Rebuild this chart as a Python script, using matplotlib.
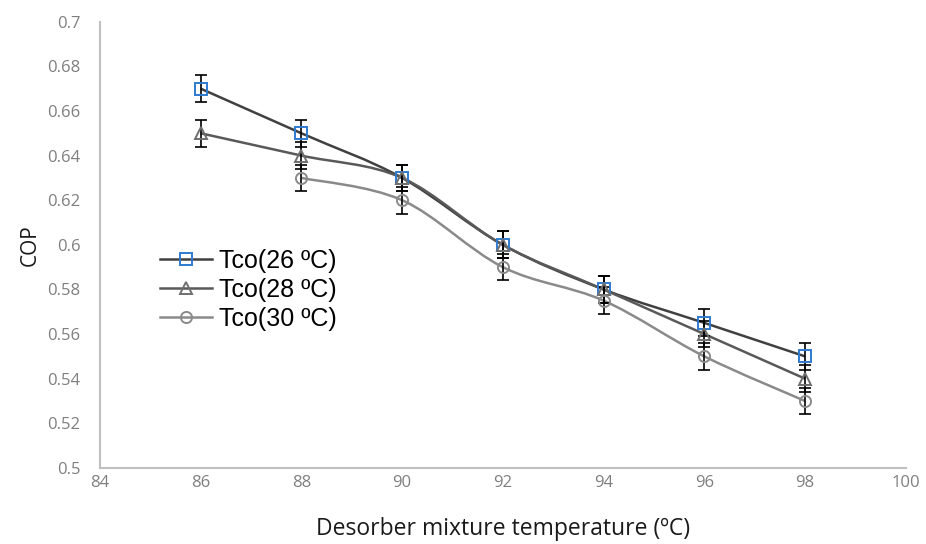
import numpy as np
import matplotlib
matplotlib.use("Agg")
import matplotlib.pyplot as plt
from matplotlib.path import Path
from matplotlib.patches import PathPatch
from matplotlib.lines import Line2D

# data
t26 = [86, 88, 90, 92, 94, 96, 98]
cop26 = [0.67, 0.65, 0.63, 0.60, 0.58, 0.565, 0.55]
t28 = [86, 88, 90, 92, 94, 96, 98]
cop28 = [0.65, 0.64, 0.63, 0.60, 0.58, 0.56, 0.54]
t30 = [88, 90, 92, 94, 96, 98]
cop30 = [0.63, 0.62, 0.59, 0.575, 0.55, 0.53]
err = 0.006
labels = ["Tco(26 \u00baC)", "Tco(28 \u00baC)", "Tco(30 \u00baC)"]


def smooth_path(x, y):
    # Excel-like smoothed line as cubic Bezier segments through the points
    p = np.column_stack([x, y]).astype(float)
    n = len(p)
    verts = [p[0]]
    codes = [Path.MOVETO]
    for i in range(n - 1):
        p0 = p[i - 1] if i > 0 else p[i]
        p3 = p[i + 2] if i + 2 < n else p[i + 1]
        c1 = p[i] + (p[i + 1] - p0) / 6
        c2 = p[i + 1] - (p3 - p[i]) / 6
        verts += [c1, c2, p[i + 1]]
        codes += [Path.CURVE4] * 3
    return Path(verts, codes)


fig = plt.figure(figsize=(9.26, 5.44), dpi=100)
ax = fig.add_axes([0.108, 0.14, 0.87, 0.82])

series = [
    (t26, cop26, "#404040", "s", "#2e7bcf"),
    (t28, cop28, "#595959", "^", "#6f6f6f"),
    (t30, cop30, "#8a8a8a", "o", "#8a8a8a"),
]
handles = []
for (x, y, lc, mk, mc), lab in zip(series, labels):
    ax.add_patch(PathPatch(smooth_path(x, y), fill=False, edgecolor=lc, lw=1.8, zorder=2))
    ax.errorbar(x, y, yerr=err, fmt="none", ecolor="black", elinewidth=1.2,
                capsize=4, capthick=1.2, zorder=3)
    ax.plot(x, y, ls="none", marker=mk, ms=8, mfc="none", mec=mc, mew=1.4, zorder=4)
    handles.append(Line2D([], [], color=lc, lw=1.8, marker=mk, ms=8,
                          mfc="none", mec=mc, mew=1.4, label=lab))

ax.set_xlim(84, 100)
ax.set_ylim(0.5, 0.7)
ax.set_xticks(np.arange(84, 101, 2))
ax.set_yticks(np.arange(0.5, 0.701, 0.02))
ax.set_xticklabels([str(v) for v in range(84, 101, 2)])
ax.set_yticklabels(["0.5", "0.52", "0.54", "0.56", "0.58", "0.6",
                    "0.62", "0.64", "0.66", "0.68", "0.7"])
ax.tick_params(axis="y", length=0, labelsize=12, labelcolor="#7f7f7f", pad=14)
ax.tick_params(axis="x", length=0, labelsize=12, labelcolor="#7f7f7f", pad=5)
for lbl in ax.get_xticklabels() + ax.get_yticklabels():
    lbl.set_family("Open Sans")
for s in ["top", "right"]:
    ax.spines[s].set_visible(False)
for s in ["left", "bottom"]:
    ax.spines[s].set_color("#bfbfbf")
    ax.spines[s].set_linewidth(1.5)

ax.set_xlabel("Desorber mixture temperature (\u00baC)", fontsize=16.5,
              family="Open Sans", color="#1a1a1a", labelpad=19)
ax.set_ylabel("COP", fontsize=15, family="Open Sans", color="#1a1a1a", labelpad=5)

leg = ax.legend(handles=handles, loc="center left",
                bbox_to_anchor=((160 - 100) / 806, (468 - 290) / 446),
                frameon=False, handlelength=2.1, handletextpad=0.25,
                labelspacing=0.2, borderpad=0, borderaxespad=0,
                prop={"family": ["Liberation Sans Narrow", "Liberation Sans"], "size": 18})

fig.savefig("out.png", dpi=100)
